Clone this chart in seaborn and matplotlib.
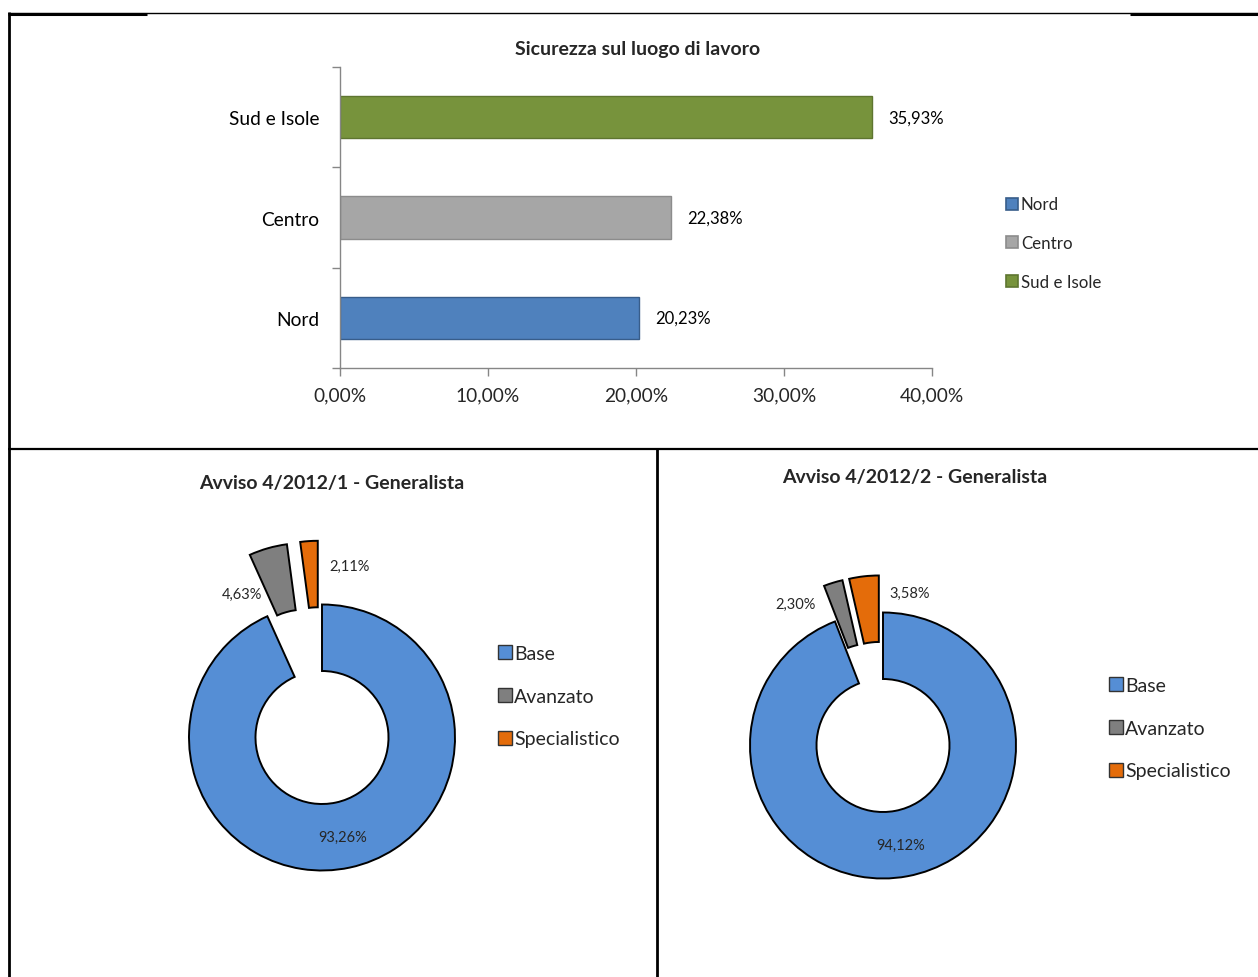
import matplotlib
matplotlib.use("Agg")
import matplotlib.pyplot as plt
from matplotlib.lines import Line2D
from matplotlib.ticker import FuncFormatter, FixedLocator
import seaborn as sns
import pandas as pd

# ---- data ----
regions = ["Sud e Isole", "Centro", "Nord"]
region_share = [35.93, 22.38, 20.23]
legend_regions = ["Nord", "Centro", "Sud e Isole"]

levels = ["Base", "Avanzato", "Specialistico"]
avviso1_share = [93.26, 4.63, 2.11]
avviso2_share = [94.12, 2.30, 3.58]
title_bar = "Sicurezza sul luogo di lavoro"
title_d1 = "Avviso 4/2012/1 - Generalista"
title_d2 = "Avviso 4/2012/2 - Generalista"

sns.set_theme(style="white")
plt.rcParams["font.family"] = ["Lato", "DejaVu Sans"]

W, H = 1258, 978
fig = plt.figure(figsize=(W / 100, H / 100), dpi=100)
fig.patch.set_facecolor("white")


def box(x0, y0, x1, y1):
    return [x0 / W, 1 - y1 / H, (x1 - x0) / W, (y1 - y0) / H]


def pct(v):
    return f"{v:.2f}".replace(".", ",") + "%"


# ---- frame lines ----
def fline(x0, y0, x1, y1, lw):
    fig.add_artist(Line2D([x0 / W, x1 / W], [1 - y0 / H, 1 - y1 / H],
                          color="black", lw=lw, solid_capstyle="butt"))

fline(8, 14, 1258, 14, 1.0)
fline(8, 14.5, 147, 14.5, 2.2)
fline(1130, 14.5, 1258, 14.5, 2.2)
fline(8.5, 13, 8.5, 978, 2.0)
fline(8, 450, 1258, 450, 1.6)
fline(657, 450, 657, 978, 2.0)

# ---- horizontal bar chart ----
bar_colors = {"Nord": "#4F81BD", "Centro": "#A6A6A6", "Sud e Isole": "#77933C"}
edge_colors = {"Nord": "#385D8A", "Centro": "#8C8C8C", "Sud e Isole": "#5E7530"}
df = pd.DataFrame({"region": regions, "share": region_share})

axb = fig.add_axes(box(340, 68, 932, 369))
sns.barplot(data=df, y="region", x="share", hue="region", order=regions,
            palette=bar_colors, width=0.42, legend=False, ax=axb, saturation=1)
for patch, reg in zip(axb.patches, regions):
    patch.set_edgecolor(edge_colors[reg])
    patch.set_linewidth(1.0)
axb.set_xlim(0, 40)
axb.set_ylim(2.5, -0.5)
axb.set_xlabel("")
axb.set_ylabel("")
axb.xaxis.set_major_locator(FixedLocator([0, 10, 20, 30, 40]))
axb.xaxis.set_major_formatter(FuncFormatter(lambda v, p: f"{v:.2f}".replace(".", ",") + "%"))
axb.yaxis.set_minor_locator(FixedLocator([-0.5, 0.5, 1.5, 2.5]))
axb.tick_params(axis="y", which="major", length=0, pad=15, labelsize=13.8, colors="black")
axb.tick_params(axis="y", which="minor", length=6, width=1, color="#868686", left=True)
axb.tick_params(axis="x", which="major", length=6, width=1, color="#868686",
                bottom=True, labelsize=13.8, pad=7)
for s in ["top", "right"]:
    axb.spines[s].set_visible(False)
for s in ["left", "bottom"]:
    axb.spines[s].set_color("#868686")
    axb.spines[s].set_linewidth(1.0)
for i, v in enumerate(region_share):
    axb.text(v + 1.1, i, pct(v), va="center", ha="left", fontsize=12, color="black")
fig.text(638 / W, 1 - 49 / H, title_bar, ha="center", va="center",
         fontsize=14, fontweight="bold")

leg_handles = [Line2D([], [], marker="s", ls="none", markersize=9,
                      markerfacecolor=bar_colors[r], markeredgecolor=edge_colors[r],
                      markeredgewidth=1.2) for r in legend_regions]
fig.legend(leg_handles, legend_regions, loc="upper left",
           bbox_to_anchor=(998 / W, 1 - 189 / H), frameon=False, fontsize=12.2,
           handlelength=0.6, handletextpad=0.25, labelspacing=1.33, borderpad=0)

# ---- donut charts ----
donut_colors = ["#558ED5", "#7F7F7F", "#E46C0A"]
R_PX = 133.0


def donut(cx, cy, shares, explode, title, tpos, label_px, legend_pos):
    half = 230
    ax = fig.add_axes(box(cx - half, cy - half, cx + half, cy + half))
    lim = half / R_PX
    ax.pie(shares, colors=donut_colors, startangle=90, counterclock=False,
           explode=[0, explode, explode], radius=1.0,
           wedgeprops=dict(width=0.5, edgecolor="black", linewidth=1.4))
    ax.set_xlim(-lim, lim)
    ax.set_ylim(-lim, lim)
    ax.set_aspect("equal")
    ax.axis("off")
    for v, (dx, dy) in zip(shares, label_px):
        ax.text(dx / R_PX, -dy / R_PX, pct(v), ha="center", va="center", fontsize=10.5)
    fig.text(tpos[0] / W, 1 - tpos[1] / H, title, ha="center", va="center",
             fontsize=14, fontweight="bold")
    handles = [Line2D([], [], marker="s", ls="none", markersize=9.5,
                      markerfacecolor=c, markeredgecolor="#333333",
                      markeredgewidth=1.0) for c in donut_colors]
    fig.legend(handles, levels, loc="upper left",
               bbox_to_anchor=(legend_pos[0] / W, 1 - legend_pos[1] / H),
               frameon=False, fontsize=14, handlelength=0.55,
               handletextpad=0.2, labelspacing=1.33, borderpad=0)


donut(322, 738.5, avviso1_share, 0.48, title_d1, (332, 484),
      [(21, 99), (-80, -144), (28, -172)], (490, 636))
donut(883, 746.5, avviso2_share, 0.28, title_d2, (915, 477),
      [(18, 99), (-87, -142), (27, -153)], (1101, 668))

fig.savefig("out.png", dpi=100, facecolor="white")
